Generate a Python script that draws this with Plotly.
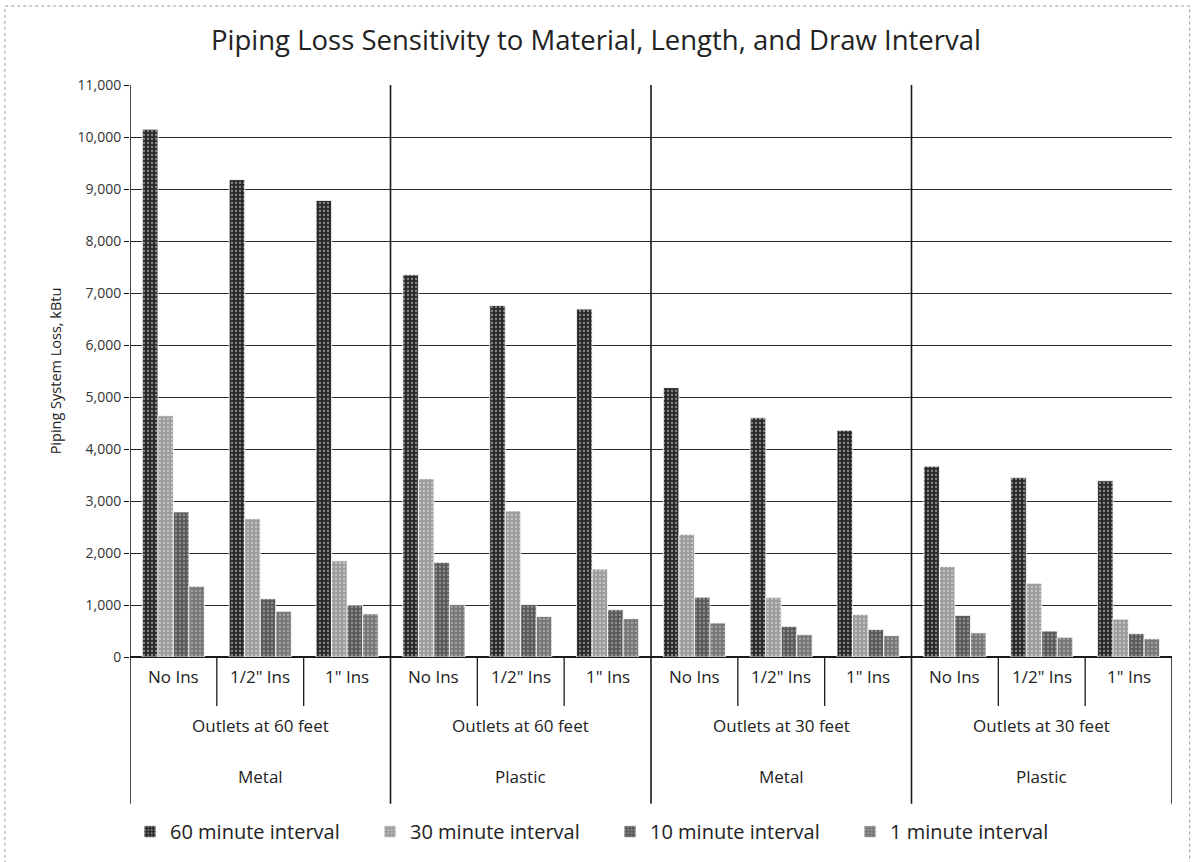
import plotly.graph_objects as go

# ---- data ----
insulation = ["No Ins", "1/2\" Ins", "1\" Ins"] * 4
lengths = ["Outlets at 60 feet", "Outlets at 60 feet", "Outlets at 30 feet", "Outlets at 30 feet"]
materials = ["Metal", "Plastic", "Metal", "Plastic"]

series_names = ["60 minute interval", "30 minute interval", "10 minute interval", "1 minute interval"]
s60 = [10150, 9180, 8780, 7350, 6760, 6690, 5180, 4600, 4360, 3670, 3450, 3390]
s30 = [4640, 2660, 1850, 3430, 2810, 1690, 2360, 1150, 820, 1740, 1420, 730]
s10 = [2790, 1120, 1000, 1820, 1010, 910, 1150, 590, 530, 800, 500, 450]
s1 = [1360, 880, 830, 1010, 780, 740, 655, 430, 410, 465, 380, 350]
series_values = [s60, s30, s10, s1]

title_text = "Piping Loss Sensitivity to Material, Length, and Draw Interval"
y_title = "Piping System Loss, kBtu"

# ---- styles ----
colors = ["#2a2a2a", "#9c9c9c", "#5a5a5a", "#777777"]
dots = ["#d8d8d8", "#e6e6e6", "#bdbdbd", "#c8c8c8"]
FONT = "'Open Sans', Lato, 'Liberation Sans', sans-serif"
TXT = "#222222"

x = list(range(len(insulation)))
fig = go.Figure()
for name, vals, c, d in zip(series_names, series_values, colors, dots):
    fig.add_trace(go.Bar(
        x=x, y=vals, name=name,
        marker=dict(color=c, line=dict(color="white", width=0.8),
                    pattern=dict(shape=".", fgcolor=d, fgopacity=0.55, size=4,
                                 solidity=0.25, fillmode="overlay")),
    ))

shapes = []
annotations = []
line_col = "#1a1a1a"
for i, lab in enumerate(insulation):
    annotations.append(dict(x=i, y=-0.0576, xref="x", yref="paper", text=lab,
                            showarrow=False, font=dict(size=17, color=TXT, family=FONT)))
    if i % 3 != 0:
        shapes.append(dict(type="line", xref="x", yref="paper", x0=i - 0.5, x1=i - 0.5,
                           y0=0, y1=-0.0855, line=dict(color=line_col, width=1.3)))
for g in range(len(materials)):
    annotations.append(dict(x=3 * g + 1, y=-0.143, xref="x", yref="paper", text=lengths[g],
                            showarrow=False, font=dict(size=17, color=TXT, family=FONT)))
    annotations.append(dict(x=3 * g + 1, y=-0.232, xref="x", yref="paper", text=materials[g],
                            showarrow=False, font=dict(size=17, color=TXT, family=FONT)))
n = len(insulation)
for g in range(len(materials) + 1):
    xs = 3 * g - 0.5
    top = 1 if g < len(materials) else 0
    shapes.append(dict(type="line", xref="x", yref="paper", x0=xs, x1=xs,
                       y0=top, y1=-0.2565, line=dict(color=line_col, width=1.6)))
shapes.append(dict(type="rect", xref="paper", yref="paper", x0=-0.12, x1=1.017,
                   y0=-0.4, y1=1.138, line=dict(color="#999", width=1, dash="dot"),
                   layer="below"))

fig.update_layout(
    width=1192, height=862,
    paper_bgcolor="white", plot_bgcolor="white",
    margin=dict(l=130, r=20, t=85, b=204),
    barmode="group", bargap=0.285, bargroupgap=0,
    font=dict(family=FONT, color=TXT),
    title=dict(text=title_text, x=0.5, xanchor="center", xref="container",
               y=1 - 40 / 862, yanchor="middle", yref="container",
               font=dict(size=27.5, color=TXT, family=FONT)),
    xaxis=dict(range=[-0.5, n - 0.5], showticklabels=False, showgrid=False,
               zeroline=False, showline=False, ticks=""),
    yaxis=dict(range=[0, 11000], dtick=1000, tickformat=",", showgrid=True,
               gridcolor="#2a2a2a", gridwidth=1.4, zeroline=True, zerolinecolor="#1a1a1a",
               zerolinewidth=1.6, ticks="outside", ticklen=5, tickcolor="#1a1a1a",
               tickfont=dict(size=14, color="#333", family=FONT),
               title=dict(text=y_title, font=dict(size=14.5, color=TXT, family=FONT), standoff=12)),
    legend=dict(orientation="h", x=0.0, xanchor="left", y=-0.303, yanchor="middle",
                font=dict(size=20, color=TXT, family=FONT), entrywidth=195,
                entrywidthmode="pixels", itemwidth=30, traceorder="normal"),
    shapes=shapes, annotations=annotations,
)

fig.write_html("out.html")
